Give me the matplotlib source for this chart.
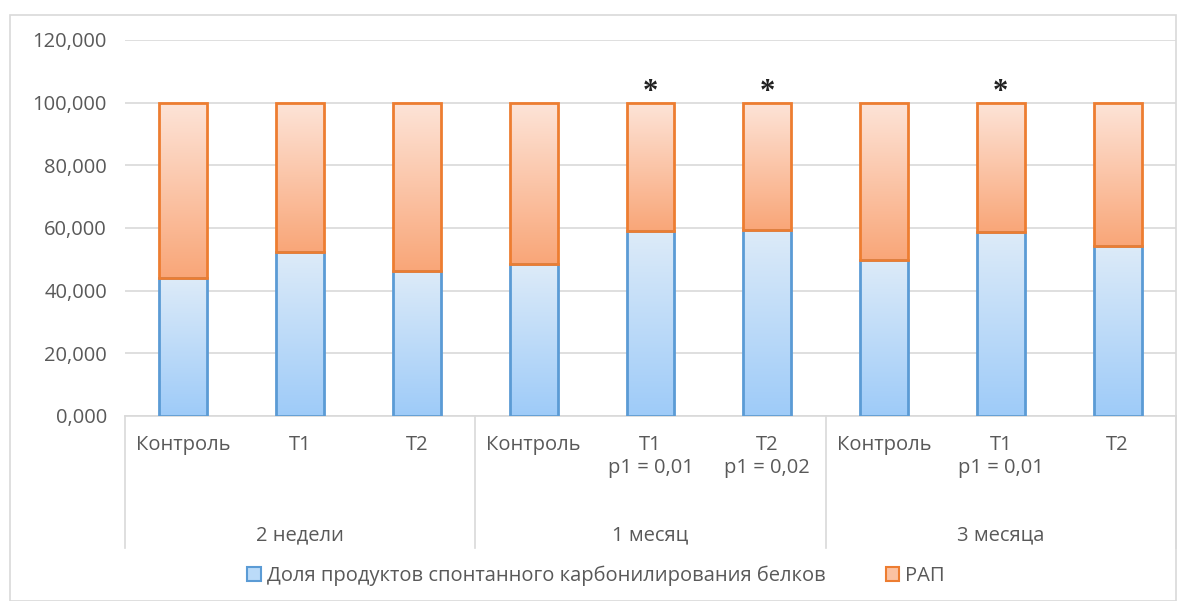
import numpy as np
import matplotlib
matplotlib.use("Agg")
import matplotlib.pyplot as plt
from matplotlib.colors import LinearSegmentedColormap
from matplotlib.patches import Patch, Rectangle

plt.rcParams['font.family'] = ['Open Sans', 'DejaVu Sans']

# data
categories = ["Контроль", "T1", "T2", "Контроль", "T1\np1 = 0,01", "T2\np1 = 0,02",
              "Контроль", "T1\np1 = 0,01", "T2"]
groups = ["2 недели", "1 месяц", "3 месяца"]
carbonyl = [44.0, 52.3, 46.3, 48.5, 59.0, 59.4, 49.8, 58.7, 54.3]
rap = [100 - v for v in carbonyl]
significant = [False, False, False, False, True, True, False, True, False]
series_names = ["Доля продуктов спонтанного карбонилирования белков", "РАП"]
yticks = [0, 20, 40, 60, 80, 100, 120]

grey = "#595959"
blue_edge, orange_edge = "#5B9BD5", "#ED7D31"
blue_grad = LinearSegmentedColormap.from_list("b", ["#9ECBF8", "#DDEBF9"])
orange_grad = LinearSegmentedColormap.from_list("o", ["#F9A678", "#FDE4D8"])
fs = 14.5

fig = plt.figure(figsize=(11.92, 6.01), dpi=100)
fig.patches.append(Rectangle((10 / 1192, 0), 1166 / 1192, 1 - 15 / 601, transform=fig.transFigure,
                             fill=False, edgecolor="#D9D9D9", linewidth=1.2))
ax = fig.add_axes([125 / 1192, 1 - 416 / 601, 1051 / 1192, 376 / 601])

x = np.arange(len(categories))
w = 0.41
b1 = ax.bar(x, carbonyl, w, color="none", edgecolor=blue_edge, linewidth=2, zorder=3)
b2 = ax.bar(x, rap, w, bottom=carbonyl, color="none", edgecolor=orange_edge, linewidth=2, zorder=3)


def fill_gradient(bars, cmap):
    grad = np.linspace(0, 1, 256).reshape(-1, 1)
    for bar in bars:
        x0, y0 = bar.get_x(), bar.get_y()
        im = ax.imshow(grad, cmap=cmap, origin="lower", aspect="auto", zorder=2,
                       extent=(x0, x0 + bar.get_width(), y0, y0 + bar.get_height()))
        im.set_clip_path(bar)


fill_gradient(b1, blue_grad)
fill_gradient(b2, orange_grad)

for i, s in enumerate(significant):
    if s:
        ax.text(x[i], carbonyl[i] + rap[i] + 3.3, "*", ha="center", va="center",
                fontsize=22, fontweight="bold", color="#222222", family="Liberation Serif")

ax.set_xlim(-0.5, len(categories) - 0.5)
ax.set_ylim(0, 120)
ax.set_yticks(yticks)
ax.set_yticklabels([f"{v:.3f}".replace(".", ",") for v in yticks])
ax.yaxis.grid(True, color="#D9D9D9", linewidth=1.2, zorder=0)
ax.set_axisbelow(True)
ax.tick_params(axis="y", length=0, labelsize=fs, labelcolor=grey, pad=13)
ax.set_xticks(x)
ax.set_xticklabels(categories, fontsize=fs, color=grey, linespacing=1.2, va="top")
ax.tick_params(axis="x", length=0, pad=14)
for sp in ["top", "right", "left"]:
    ax.spines[sp].set_visible(False)
ax.spines["bottom"].set_color("#D9D9D9")
ax.spines["bottom"].set_linewidth(1.2)

trans = ax.get_xaxis_transform()
for d in [-0.5, 2.5, 5.5, 8.5]:
    ax.plot([d, d], [0, -0.351], transform=trans, color="#D9D9D9", linewidth=1.2, clip_on=False)
for g, name in enumerate(groups):
    ax.text(3 * g + 1, -0.318, name, transform=trans, ha="center", va="center",
            fontsize=fs, color=grey)

handles = [Patch(facecolor="#BBDBF9", edgecolor=blue_edge, linewidth=1.5),
           Patch(facecolor="#FBC2A2", edgecolor=orange_edge, linewidth=1.5)]
fig.legend(handles, series_names, loc="center", bbox_to_anchor=(0.5, 1 - 576 / 601), ncol=2,
           frameon=False, fontsize=fs, labelcolor=grey, handlelength=0.65, handleheight=0.65,
           handletextpad=0.3, columnspacing=3.0)

fig.savefig("out.png", dpi=100)
